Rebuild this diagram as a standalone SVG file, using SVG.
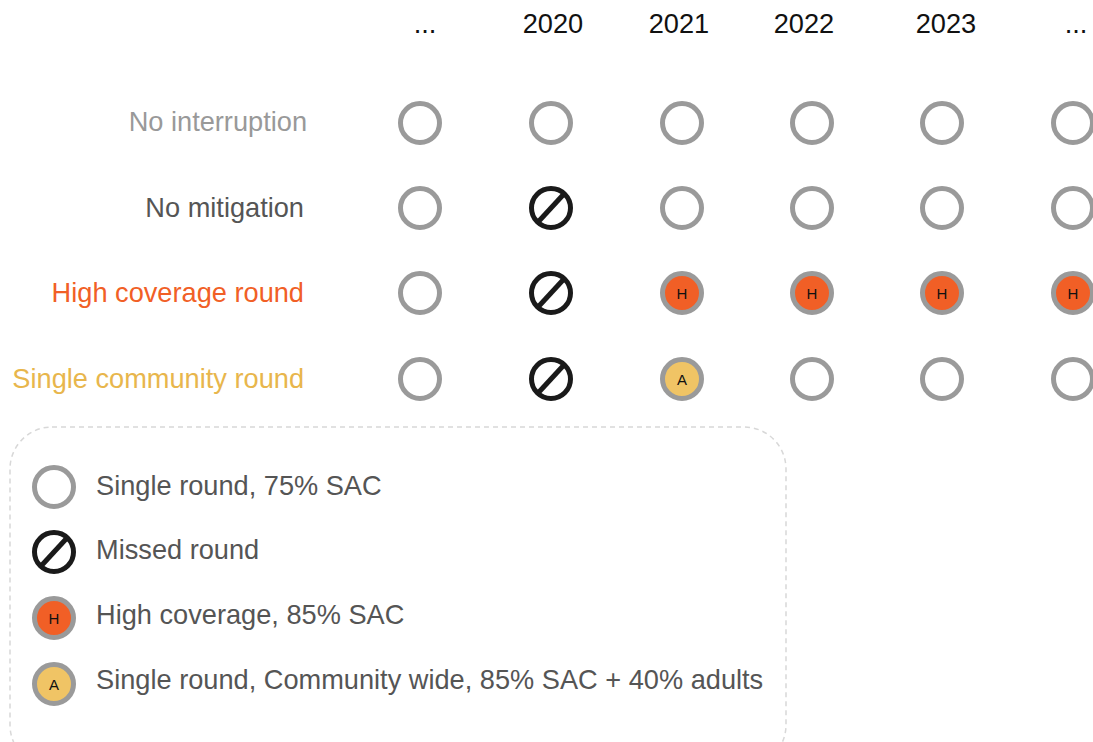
<svg xmlns="http://www.w3.org/2000/svg" width="1093" height="742" viewBox="0 0 1093 742">
<defs>
<style>
text{font-family:"Liberation Sans",Arial,sans-serif;font-size:27.2px}
.yr{fill:#111;text-anchor:middle}
.lab{text-anchor:end}
.leg{fill:#555}
.ring{fill:none;stroke:#9a9a9a;stroke-width:5}
.miss{fill:none;stroke:#1a1a1a;stroke-width:5}
.hc{fill:#f15f26;stroke:#9a9a9a;stroke-width:5}
.sc{fill:#f0c465;stroke:#9a9a9a;stroke-width:5}
.ltr{font-size:15px;fill:#111;text-anchor:middle}
</style>
<g id="sym-ring"><circle class="ring" r="19.5"/></g>
<g id="sym-miss"><circle class="miss" r="19.5"/><line class="miss" x1="12" y1="-13" x2="-12" y2="13"/></g>
<g id="sym-h"><circle class="hc" r="19.5"/><text class="ltr" y="5.5">H</text></g>
<g id="sym-a"><circle class="sc" r="19.5"/><text class="ltr" y="5.5">A</text></g>
</defs>
<rect width="1093" height="742" fill="#fff"/>
<g id="years">
<text class="yr" x="425" y="33">...</text>
<text class="yr" x="553" y="33">2020</text>
<text class="yr" x="679" y="33">2021</text>
<text class="yr" x="804" y="33">2022</text>
<text class="yr" x="946" y="33">2023</text>
<text class="yr" x="1076" y="33">...</text>
</g>
<g id="row-labels">
<text class="lab" x="307" y="131" fill="#999">No interruption</text>
<text class="lab" x="304" y="217" fill="#555">No mitigation</text>
<text class="lab" x="304" y="302" fill="#f15f26">High coverage round</text>
<text class="lab" x="304" y="388" fill="#e8b64c">Single community round</text>
</g>
<g id="row-no-interruption">
<use href="#sym-ring" x="420" y="123"/><use href="#sym-ring" x="551" y="123"/><use href="#sym-ring" x="682" y="123"/><use href="#sym-ring" x="812" y="123"/><use href="#sym-ring" x="942" y="123"/><use href="#sym-ring" x="1073" y="123"/>
</g>
<g id="row-no-mitigation">
<use href="#sym-ring" x="420" y="208"/><use href="#sym-miss" x="551" y="208"/><use href="#sym-ring" x="682" y="208"/><use href="#sym-ring" x="812" y="208"/><use href="#sym-ring" x="942" y="208"/><use href="#sym-ring" x="1073" y="208"/>
</g>
<g id="row-high-coverage">
<use href="#sym-ring" x="420" y="293"/><use href="#sym-miss" x="551" y="293"/><use href="#sym-h" x="682" y="293"/><use href="#sym-h" x="812" y="293"/><use href="#sym-h" x="942" y="293"/><use href="#sym-h" x="1073" y="293"/>
</g>
<g id="row-single-community">
<use href="#sym-ring" x="420" y="379"/><use href="#sym-miss" x="551" y="379"/><use href="#sym-a" x="682" y="379"/><use href="#sym-ring" x="812" y="379"/><use href="#sym-ring" x="942" y="379"/><use href="#sym-ring" x="1073" y="379"/>
</g>
<g id="legend">
<rect x="10" y="427" width="776" height="340" rx="42" fill="none" stroke="#d8d8d8" stroke-width="1.5" stroke-dasharray="5 4"/>
<use href="#sym-ring" x="54" y="487"/>
<text class="leg" x="96" y="495">Single round, 75% SAC</text>
<use href="#sym-miss" x="54" y="552"/>
<text class="leg" x="96" y="559">Missed round</text>
<use href="#sym-h" x="54" y="618"/>
<text class="leg" x="96" y="624">High coverage, 85% SAC</text>
<use href="#sym-a" x="54" y="684"/>
<text class="leg" x="96" y="689">Single round, Community wide, 85% SAC + 40% adults</text>
</g>
</svg>
